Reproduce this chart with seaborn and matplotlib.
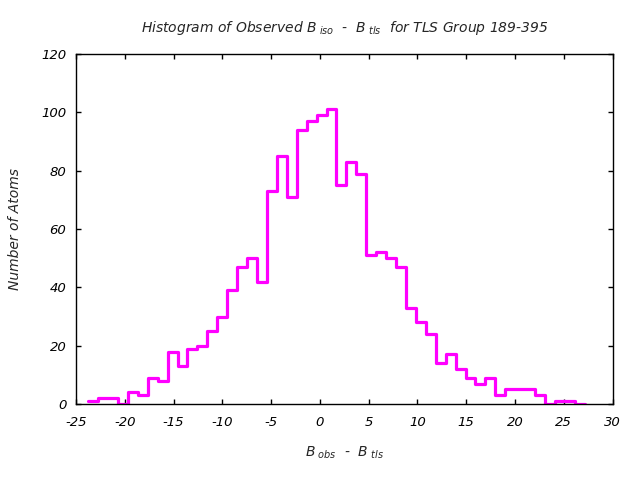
import numpy as np
import pandas as pd
import matplotlib
matplotlib.use("Agg")
import matplotlib.pyplot as plt
import seaborn as sns

counts = [1, 2, 2, 0, 4, 3, 9, 8, 18, 13, 19, 20, 25, 30, 39, 47, 50, 42,
          73, 85, 71, 94, 97, 99, 101, 75, 83, 79, 51, 52, 50, 47, 33, 28,
          24, 14, 17, 12, 9, 7, 9, 3, 5, 5, 5, 3, 0, 1, 1, 0]
bin_start = -23.75
bin_stop = 27.15
x_ticks = [-25, -20, -15, -10, -5, 0, 5, 10, 15, 20, 25, 30]
y_ticks = [0, 20, 40, 60, 80, 100, 120]

n_bins = len(counts)
width = (bin_stop - bin_start) / n_bins
bin_centers = [bin_start + width * (i + 0.5) for i in range(n_bins)]
df = pd.DataFrame({"center": bin_centers, "count": counts})

sns.set_style("white")
plt.rcParams['font.family'] = ['DejaVu Sans']
plt.rcParams['font.style'] = 'italic'
plt.rcParams['mathtext.fontset'] = 'custom'
plt.rcParams['mathtext.it'] = 'DejaVu Sans:italic'
plt.rcParams['mathtext.rm'] = 'DejaVu Sans:italic'

fig = plt.figure(figsize=(6.4, 4.8), dpi=100)
ax = fig.add_axes([76/640, 1 - 404/480, (612.5 - 76)/640, (404 - 54)/480])

sns.histplot(data=df, x="center", weights="count", bins=n_bins,
             binrange=(bin_start, bin_stop), element="step", fill=False,
             color="#ff00ff", linewidth=2.3, ax=ax)

ax.set_xlim(-25, 30)
ax.set_ylim(0, 120)
ax.set_xticks(x_ticks)
ax.set_yticks(y_ticks)
ax.set_xticklabels([str(t) for t in x_ticks], fontsize=9.5, style='italic')
ax.set_yticklabels([str(t) for t in y_ticks], fontsize=9.5, style='italic')
ax.tick_params(direction='in', length=3.5, width=1, top=True, right=True,
               bottom=True, left=True, colors='black')
ax.tick_params(axis='x', pad=9)
ax.tick_params(axis='y', pad=7)
for s in ax.spines.values():
    s.set_visible(True)
    s.set_color('black')
    s.set_linewidth(1.0)

ax.set_xlabel(r"$B_{\ obs}$  -  $B_{\ tls}$", fontsize=10, labelpad=11)
ax.set_ylabel("Number of Atoms", fontsize=10, style='italic', labelpad=14)
ax.set_title(r"Histogram of Observed $B_{\ iso}$  -  $B_{\ tls}$  for TLS Group 189-395",
             fontsize=10, style='italic', pad=16)

fig.savefig("out.png", dpi=100)
